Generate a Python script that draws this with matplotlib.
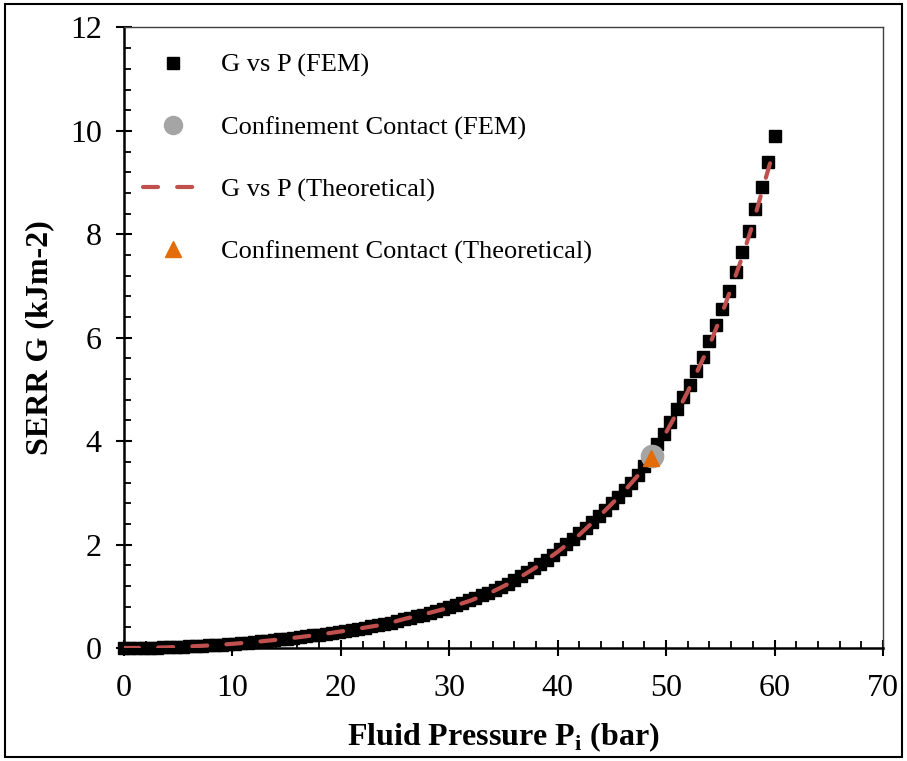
import numpy as np
import matplotlib
matplotlib.use('Agg')
import matplotlib.pyplot as plt
from matplotlib.lines import Line2D
from matplotlib.patches import Rectangle
from matplotlib.ticker import MultipleLocator

plt.rcParams['font.family'] = ['Liberation Serif', 'DejaVu Serif']
plt.rcParams['mathtext.fontset'] = 'custom'
plt.rcParams['mathtext.rm'] = 'Liberation Serif'
plt.rcParams['mathtext.bf'] = 'Liberation Serif:bold'

# FEM results: fluid pressure (bar) vs SERR G (kJ/m2)
p_fem = [0.0, 0.6, 1.2, 1.8, 2.4, 3.0, 3.6, 4.2, 4.8, 5.4, 6.0, 6.6, 7.2, 7.8, 8.4,
         9.0, 9.6, 10.2, 10.8, 11.4, 12.0, 12.6, 13.2, 13.8, 14.4, 15.0, 15.6, 16.2,
         16.8, 17.4, 18.0, 18.6, 19.2, 19.8, 20.4, 21.0, 21.6, 22.2, 22.8, 23.4, 24.0,
         24.6, 25.2, 25.8, 26.4, 27.0, 27.6, 28.2, 28.8, 29.4, 30.0, 30.6, 31.2, 31.8,
         32.4, 33.0, 33.6, 34.2, 34.8, 35.4, 36.0, 36.6, 37.2, 37.8, 38.4, 39.0, 39.6,
         40.2, 40.8, 41.4, 42.0, 42.6, 43.2, 43.8, 44.4, 45.0, 45.6, 46.2, 46.8, 47.4,
         48.0, 48.6, 49.2, 49.8, 50.4, 51.0, 51.6, 52.2, 52.8, 53.4, 54.0, 54.6, 55.2,
         55.8, 56.4, 57.0, 57.6, 58.2, 58.8, 59.4, 60.0]
g_fem = [0.000, 0.000, 0.001, 0.003, 0.005, 0.007, 0.010, 0.014, 0.018, 0.023, 0.029,
         0.035, 0.042, 0.049, 0.056, 0.065, 0.074, 0.083, 0.093, 0.104, 0.115, 0.127,
         0.139, 0.152, 0.166, 0.180, 0.195, 0.210, 0.226, 0.242, 0.259, 0.277, 0.295,
         0.314, 0.333, 0.353, 0.373, 0.394, 0.416, 0.438, 0.461, 0.490, 0.521, 0.552,
         0.578, 0.612, 0.647, 0.676, 0.713, 0.752, 0.792, 0.833, 0.876, 0.920, 0.966,
         1.024, 1.073, 1.123, 1.187, 1.241, 1.322, 1.393, 1.467, 1.543, 1.622, 1.704,
         1.803, 1.907, 2.014, 2.108, 2.223, 2.323, 2.445, 2.552, 2.661, 2.795, 2.911,
         3.052, 3.198, 3.348, 3.525, 3.708, 3.946, 4.142, 4.37, 4.62, 4.85, 5.08, 5.36,
         5.63, 5.94, 6.25, 6.55, 6.90, 7.27, 7.66, 8.06, 8.48, 8.92, 9.39, 9.90]

# theoretical curve
p_th = [0, 2, 4, 6, 8, 10, 12, 14, 16, 18, 20, 22, 24, 26, 28, 30, 32, 34, 36, 38, 40,
        42, 44, 46, 48, 49, 50, 51, 52, 53, 54, 55, 56, 57, 58, 59, 59.8]
g_th = [0.0, 0.003, 0.013, 0.029, 0.051, 0.080, 0.115, 0.157, 0.205, 0.259, 0.320,
        0.387, 0.455, 0.57, 0.67, 0.78, 0.92, 1.09, 1.30, 1.56, 1.86, 2.19, 2.58, 3.00,
        3.48, 3.79, 4.17, 4.55, 4.96, 5.41, 5.86, 6.38, 6.96, 7.55, 8.20, 8.95, 9.53]

# confinement contact points
contact_fem = (48.7, 3.72)
contact_th = (48.6, 3.67)

red = '#C0504D'
grey = '#A5A5A5'
orange = '#E46C0A'

fig = plt.figure(figsize=(9.07, 7.61), dpi=100)
ax = fig.add_axes([0.1367, 0.1485, 0.8368, 0.8154])

ax.plot(p_fem, g_fem, 's', color='black', ms=8.5, zorder=2, clip_on=False)
ax.plot(p_th, g_th, color=red, lw=3, dashes=(3.6, 4.6), dash_capstyle='round', zorder=3)
ax.plot(*contact_fem, 'o', color=grey, ms=16, zorder=4)
ax.plot(*contact_th, '^', color=orange, ms=11, zorder=5)

ax.set_xlim(0, 70)
ax.set_ylim(0, 12)
ax.xaxis.set_major_locator(MultipleLocator(10))
ax.xaxis.set_minor_locator(MultipleLocator(2))
ax.yaxis.set_major_locator(MultipleLocator(2))
ax.yaxis.set_minor_locator(MultipleLocator(0.4))
ax.tick_params(which='major', direction='inout', length=12, width=1.5, labelsize=23)
ax.tick_params(which='minor', direction='in', length=5, width=1.3)
ax.tick_params(axis='x', which='major', pad=13)
ax.tick_params(axis='y', which='major', pad=10)
for s in ['left', 'bottom']:
    ax.spines[s].set_linewidth(1.8)
for s in ['top', 'right']:
    ax.spines[s].set_linewidth(1.0)
    ax.spines[s].set_color('#404040')

ax.set_xlabel(r'Fluid Pressure P$_{\mathbf{i}}$ (bar)', fontsize=23, fontweight='bold', labelpad=12)
ax.set_ylabel('SERR G (kJm-2)', fontsize=23, fontweight='bold', labelpad=11)

handles = [
    Line2D([], [], ls='none', marker='s', color='black', ms=8.5),
    Line2D([], [], ls='none', marker='o', color=grey, ms=13),
    Line2D([], [], color=red, lw=3, dashes=(3.6, 4.6), dash_capstyle='round'),
    Line2D([], [], ls='none', marker='^', color=orange, ms=11),
]
labels = ['G vs P (FEM)', 'Confinement Contact (FEM)', 'G vs P (Theoretical)',
          'Confinement Contact (Theoretical)']
ax.legend(handles, labels, loc='upper left', bbox_to_anchor=(0.025, 0.958),
          frameon=False, fontsize=19, borderpad=0, borderaxespad=0,
          labelspacing=1.45, handlelength=2.3, handletextpad=0.65, numpoints=1)

fig.patches.append(Rectangle((0.005, 0.005), 0.99, 0.99, transform=fig.transFigure,
                             fill=False, edgecolor='black', lw=1.5))

fig.savefig('out.png', dpi=100)
